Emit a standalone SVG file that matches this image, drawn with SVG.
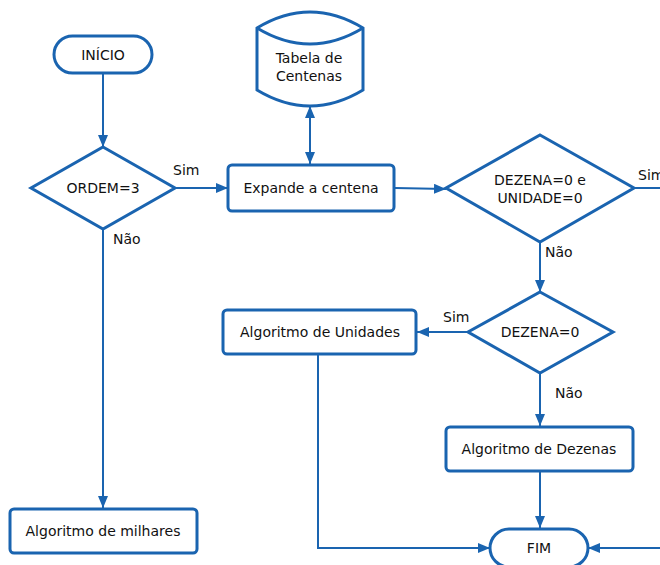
<svg xmlns="http://www.w3.org/2000/svg" width="660" height="565" viewBox="0 0 660 565">
  <style>
    .shape { fill: #ffffff; stroke: #1a64b0; stroke-width: 3; }
    .edge { fill: none; stroke: #1a64b0; stroke-width: 2; }
    text { font-family: "DejaVu Sans", "Liberation Sans", sans-serif; font-size: 14px; fill: #111111; }
    .c { text-anchor: middle; dominant-baseline: central; }
  </style>
  <defs>
    <marker id="arrow" viewBox="0 0 12 10" refX="12" refY="5" markerWidth="12" markerHeight="10" markerUnits="userSpaceOnUse" orient="auto-start-reverse">
      <path d="M0,0 L12,5 L0,10 Z" fill="#1a64b0"/>
    </marker>
  </defs>
  <rect width="660" height="565" fill="#ffffff"/>

  <!-- connectors -->
  <g id="connectors">
    <path class="edge" d="M103,74 L103,147" marker-end="url(#arrow)"/>
    <path class="edge" d="M175,188 L228,188" marker-end="url(#arrow)"/>
    <path class="edge" d="M103,229 L103,508" marker-end="url(#arrow)"/>
    <path class="edge" d="M310,106 L310,164" marker-start="url(#arrow)" marker-end="url(#arrow)"/>
    <path class="edge" d="M395,188 L446,189" marker-end="url(#arrow)"/>
    <path class="edge" d="M634,188 L660,188"/>
    <path class="edge" d="M540,242 L540,292" marker-end="url(#arrow)"/>
    <path class="edge" d="M468,332 L417,332" marker-end="url(#arrow)"/>
    <path class="edge" d="M540,373 L540,426" marker-end="url(#arrow)"/>
    <path class="edge" d="M540,471 L540,528" marker-end="url(#arrow)"/>
    <path class="edge" d="M318,354 L318,548 L490,548" marker-end="url(#arrow)"/>
    <path class="edge" d="M660,548 L588,548" marker-end="url(#arrow)"/>
    <text x="173" y="175">Sim</text>
    <text x="113" y="244">Não</text>
    <text x="638" y="180">Sim</text>
    <text x="545" y="257">Não</text>
    <text x="443" y="322">Sim</text>
    <text x="555" y="398">Não</text>
  </g>

  <g id="inicio">
    <rect class="shape" x="54" y="36" width="98" height="37" rx="18.5"/>
    <text class="c" x="103" y="55">INÍCIO</text>
  </g>

  <g id="ordem">
    <polygon class="shape" points="103,147 175,188 103,229 31,188"/>
    <text class="c" x="103" y="188">ORDEM=3</text>
  </g>

  <g id="tabela">
    <path class="shape" d="M257,28 Q310,-4 363,28 L363,90 Q310,122 257,90 Z"/>
    <path class="shape" d="M257,28 Q310,60 363,28" fill="none"/>
    <text class="c" x="309" y="58">Tabela de</text>
    <text class="c" x="309" y="76">Centenas</text>
  </g>

  <g id="expande">
    <rect class="shape" x="228" y="165" width="166" height="46" rx="4"/>
    <text class="c" x="311" y="188">Expande a centena</text>
  </g>

  <g id="dezena-unidade">
    <polygon class="shape" points="540,135 634,188 540,242 446,188"/>
    <text class="c" x="540" y="180">DEZENA=0 e</text>
    <text class="c" x="540" y="198">UNIDADE=0</text>
  </g>

  <g id="dezena">
    <polygon class="shape" points="540,292 613,332 540,373 468,332"/>
    <text class="c" x="540" y="332">DEZENA=0</text>
  </g>

  <g id="unidades">
    <rect class="shape" x="223" y="310" width="193" height="44" rx="4"/>
    <text class="c" x="320" y="332">Algoritmo de Unidades</text>
  </g>

  <g id="dezenas">
    <rect class="shape" x="446" y="427" width="187" height="44" rx="4"/>
    <text class="c" x="539" y="449">Algoritmo de Dezenas</text>
  </g>

  <g id="milhares">
    <rect class="shape" x="10" y="509" width="187" height="44" rx="4"/>
    <text class="c" x="103" y="531">Algoritmo de milhares</text>
  </g>

  <g id="fim">
    <rect class="shape" x="490" y="529" width="98" height="38" rx="19"/>
    <text class="c" x="539" y="548">FIM</text>
  </g>
</svg>
